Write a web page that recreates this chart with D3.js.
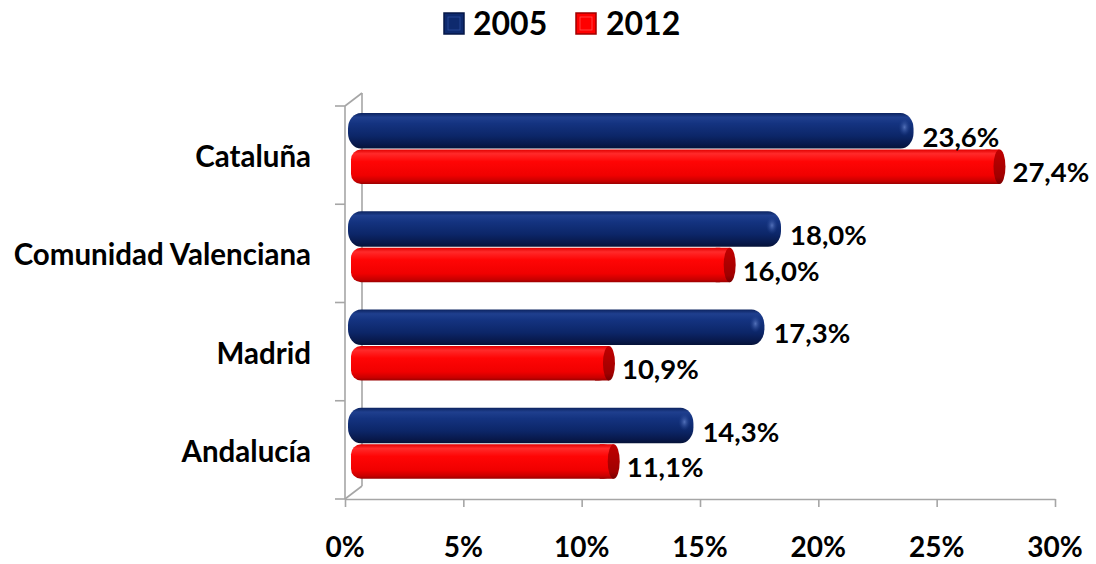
<!DOCTYPE html>
<html>
<head>
<meta charset="utf-8">
<script src="https://cdn.jsdelivr.net/npm/d3@7"></script>
<style>
  html, body { margin: 0; padding: 0; background: #ffffff; }
  svg { display: block; }
  text { font-family: 'Lato', 'Open Sans', sans-serif; font-weight: bold; fill: #000; }
</style>
</head>
<body>
<svg id="chart" width="1096" height="564"></svg>
<script>
const categories = ["Cataluña", "Comunidad Valenciana", "Madrid", "Andalucía"];
const series = ["2005", "2012"];
const values2005 = [23.6, 18.0, 17.3, 14.3];
const values2012 = [27.4, 16.0, 10.9, 11.1];
const tickValues = [0, 5, 10, 15, 20, 25, 30];

const AXIS = "#a6a6a6";

const svg = d3.select("#chart");
const defs = svg.append("defs");

function linGrad(id, stops) {
  const g = defs.append("linearGradient").attr("id", id)
    .attr("x1", 0).attr("y1", 0).attr("x2", 0).attr("y2", 1);
  stops.forEach(s => g.append("stop").attr("offset", s[0]).attr("stop-color", s[1]));
}
linGrad("gBlue", [[0, "#0c235f"], [0.12, "#1f3f8e"], [0.3, "#143380"], [0.65, "#0c2668"], [0.88, "#08194c"], [1, "#051238"]]);
linGrad("gRed", [[0, "#e00000"], [0.12, "#ff2a2a"], [0.35, "#ff0505"], [0.75, "#f00000"], [0.92, "#c80000"], [1, "#9a0000"]]);
linGrad("gRedCap", [[0, "#c00000"], [0.3, "#b40000"], [0.8, "#a00000"], [1, "#780000"]]);
const rg = defs.append("radialGradient").attr("id", "gBlueHi");
rg.append("stop").attr("offset", 0).attr("stop-color", "#5a78c0").attr("stop-opacity", 0.9);
rg.append("stop").attr("offset", 1).attr("stop-color", "#1f3f8e").attr("stop-opacity", 0);

const x = d3.scaleLinear().domain([0, 30]).range([345, 1055]);
const y = d3.scaleBand().domain(categories).range([106, 499]).padding(0);
const ys = d3.scaleBand().domain(series).range([7, 78]).padding(0);
const fmt = v => d3.format(".1f")(v).replace(".", ",") + "%";

function label(parent, tx, ty, str, anchor, size) {
  return parent.append("text")
    .attr("x", tx).attr("y", ty)
    .attr("text-anchor", anchor)
    .style("font-size", size + "px")
    .text(str);
}

// ---- 3D walls / axes lines ----
const dx = 17, dy = -13;
const [y0, y1] = y.range();
const axisG = svg.append("g").attr("stroke", AXIS).attr("stroke-width", 1.6).attr("fill", "none");
axisG.append("line").attr("x1", x(0) + dx).attr("x2", x(0) + dx).attr("y1", y0 + dy).attr("y2", y1 + dy);
axisG.append("line").attr("x1", x(0)).attr("y1", y0).attr("x2", x(0) + dx).attr("y2", y0 + dy);
axisG.append("line").attr("x1", x(0)).attr("y1", y1).attr("x2", x(0) + dx).attr("y2", y1 + dy);
axisG.append("line").attr("x1", x(0)).attr("x2", x(0)).attr("y1", y0).attr("y2", y1);
const bounds = categories.map(c => y(c)).concat([y1]);
axisG.selectAll("line.ct").data(bounds).enter().append("line").attr("class", "ct")
  .attr("x1", x(0) - 10).attr("x2", x(0)).attr("y1", d => d).attr("y2", d => d);

// bottom value axis
const xAxis = d3.axisBottom(x).tickValues(tickValues).tickSize(8).tickSizeOuter(0).tickFormat("");
const xg = svg.append("g").attr("transform", `translate(0,${y1})`).call(xAxis);
xg.select(".domain").attr("stroke", AXIS).attr("stroke-width", 1.6);
xg.selectAll(".tick line").attr("stroke", AXIS).attr("stroke-width", 1.6);
tickValues.forEach(t => label(svg, x(t), 557, t + "%", "middle", 28));

// category labels
categories.forEach(c => label(svg, 311, y(c) + y.bandwidth() / 2 + 12, c, "end", 29.5));

// ---- bars ----
const data = [];
categories.forEach((c, i) => {
  data.push({ cat: c, s: "2005", v: values2005[i] });
  data.push({ cat: c, s: "2012", v: values2012[i] });
});

const barsG = svg.append("g");
const labelsG = svg.append("g");
data.forEach(d => {
  const top = y(d.cat) + ys(d.s);
  const h = ys.bandwidth();
  const g = barsG.append("g");
  if (d.s === "2005") {
    const xs = x(0) + 3, xe = x(d.v) + 10;
    g.append("rect").attr("x", xs).attr("y", top).attr("width", xe - xs).attr("height", h)
      .attr("rx", 13).attr("ry", h / 2 - 2).attr("fill", "url(#gBlue)");
    g.append("ellipse").attr("cx", xe - 9).attr("cy", top + h * 0.4).attr("rx", 6).attr("ry", 9)
      .attr("fill", "url(#gBlueHi)");
  } else {
    const xs = x(0) + 6, xe = x(d.v) + 12;
    const hh = h - 1;
    g.append("rect").attr("x", xs).attr("y", top + 1).attr("width", xe - xs - 6).attr("height", hh)
      .attr("rx", 10).attr("ry", 10).attr("fill", "url(#gRed)");
    g.append("rect").attr("x", xe - 20).attr("y", top + 1).attr("width", 14).attr("height", hh)
      .attr("fill", "url(#gRed)");
    g.append("ellipse").attr("cx", xe - 6).attr("cy", top + 1 + hh / 2).attr("rx", 6).attr("ry", hh / 2)
      .attr("fill", "url(#gRedCap)");
  }
  label(labelsG, x(d.v) + 19, top + h / 2 + 16, fmt(d.v), "start", 27.5);
});

// ---- legend ----
const legend = [
  { s: "2005", sx: 444, tx: 473, fill: "#0e2a6e", edge: "#061747", hi: "#2b4b9b" },
  { s: "2012", sx: 576, tx: 606, fill: "#ff0000", edge: "#a00000", hi: "#ff5050" }
];
legend.forEach(l => {
  svg.append("rect").attr("x", l.sx).attr("y", 13).attr("width", 20).attr("height", 21)
    .attr("fill", l.fill).attr("stroke", l.edge).attr("stroke-width", 1.5);
  svg.append("rect").attr("x", l.sx + 4).attr("y", 17).attr("width", 12).attr("height", 13)
    .attr("fill", l.fill).attr("stroke", l.hi).attr("stroke-width", 0.8);
  label(svg, l.tx, 35, l.s, "start", 32);
});
</script>
</body>
</html>
